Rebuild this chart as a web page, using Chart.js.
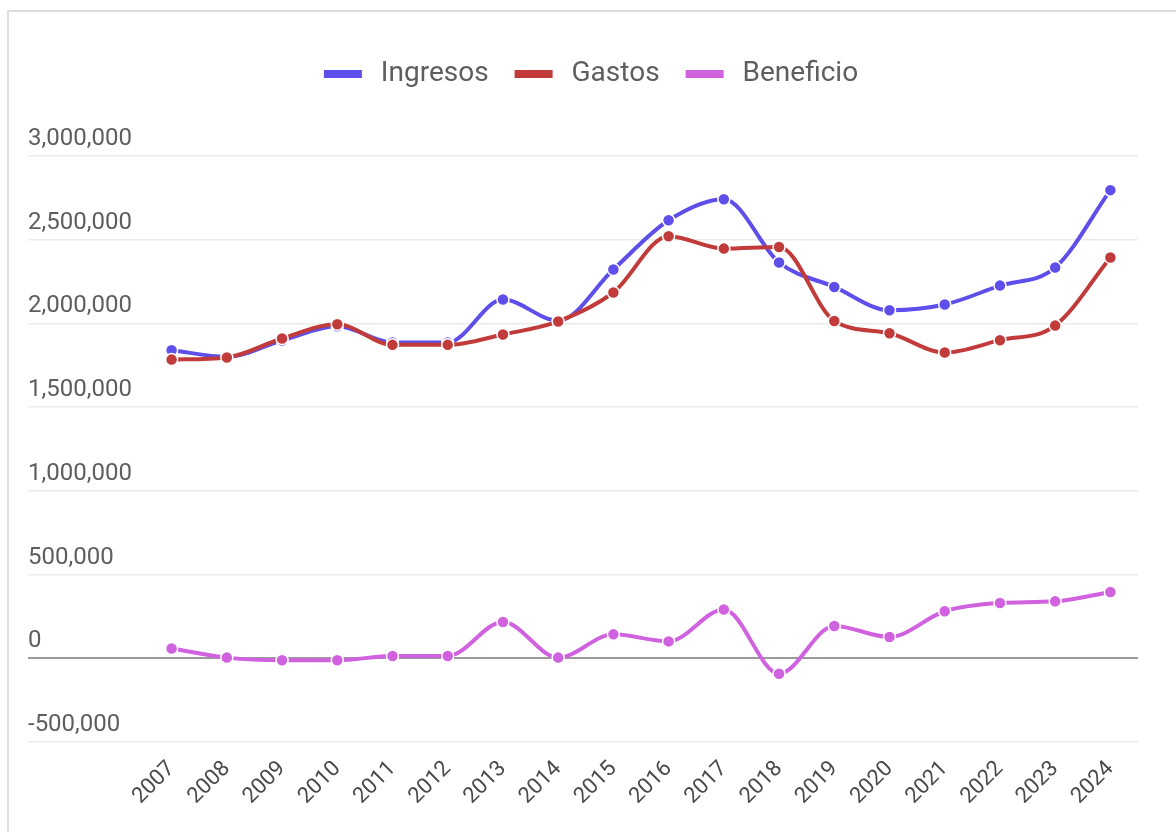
<!DOCTYPE html>
<html>
<head>
<meta charset="utf-8">
<title>Ingresos, Gastos y Beneficio</title>
<script src="https://cdn.jsdelivr.net/npm/chart.js@4.4.0/dist/chart.umd.min.js"></script>
<style>
	html, body { margin: 0; padding: 0; background: #fff; }
	#frame {
		position: absolute; left: 7px; top: 10px; width: 1300px; height: 900px;
		border-left: 2px solid #dedede; border-top: 2px solid #dedede;
	}
	#wrap { position: absolute; left: 0; top: 0; width: 1176px; height: 832px; }
</style>
</head>
<body>
<div id="frame"></div>
<div id="wrap"><canvas id="chart"></canvas></div>
<script>
	'use strict';

	// data
	var years = ['2007', '2008', '2009', '2010', '2011', '2012', '2013', '2014', '2015',
		'2016', '2017', '2018', '2019', '2020', '2021', '2022', '2023', '2024'];
	var ingresos = [1840000, 1801000, 1898000, 1983000, 1886000, 1886000, 2143000, 2016000, 2322000,
		2616000, 2742000, 2364000, 2218000, 2079000, 2113000, 2226000, 2334000, 2796000];
	var gastos = [1784000, 1797000, 1910000, 1995000, 1872000, 1872000, 1934000, 2012000, 2185000,
		2521000, 2447000, 2457000, 2015000, 1941000, 1826000, 1900000, 1987000, 2394000];
	var beneficio = [58000, 4000, -12000, -12000, 14000, 14000, 217000, 4000, 143000,
		101000, 291000, -92000, 193000, 127000, 281000, 330000, 340000, 396000];
	var yMin = -500000;
	var yMax = 3000000;
	var yStep = 500000;

	var textColor = '#5e5e5e';
	var font = 'Roboto';

	function lineSet(label, values, color, order){
		return {
			label: label,
			data: values,
			order: order,
			borderColor: color,
			backgroundColor: color,
			borderWidth: 4,
			cubicInterpolationMode: 'monotone',
			pointRadius: 6,
			pointHoverRadius: 6,
			pointBackgroundColor: color,
			pointBorderColor: '#fff',
			pointBorderWidth: 1.5
		};
	}

	// push the plot area down below the legend, and nudge the legend right a bit
	var legendSpace = {
		id: 'legendSpace',
		beforeInit: function(chart){
			var fit = chart.legend.fit;
			chart.legend.fit = function(){
				fit.call(this);
				this.height += 58;
			};
		},
		afterLayout: function(chart){
			chart.legend.left += 9;
			chart.legend.right += 9;
		}
	};

	var ctx = document.getElementById('chart').getContext('2d');
	var chart = new Chart(ctx, {
		type: 'line',
		data: {
			labels: years,
			datasets: [
				lineSet('Ingresos', ingresos, '#5f4fea', 2),
				lineSet('Gastos', gastos, '#c23b3b', 1),
				lineSet('Beneficio', beneficio, '#d061df', 0)
			]
		},
		options: {
			responsive: true,
			maintainAspectRatio: false,
			animation: false,
			events: [],
			layout: {
				padding: { left: 28, right: 38, top: 32, bottom: 0 }
			},
			plugins: {
				legend: {
					position: 'top',
					labels: {
						boxWidth: 34,
						boxHeight: 4,
						padding: 28,
						color: textColor,
						font: { family: font, size: 28 },
						sort: function(a, b){ return a.datasetIndex - b.datasetIndex; },
						generateLabels: function(chart){
							var items = Chart.defaults.plugins.legend.labels.generateLabels(chart);
							items.forEach(function(it){ it.text = ' ' + it.text; });
							return items;
						}
					}
				},
				tooltip: { enabled: false }
			},
			scales: {
				x: {
					offset: true,
					grid: { display: false },
					border: { display: false },
					ticks: {
						minRotation: 45,
						maxRotation: 45,
						padding: 6,
						color: '#4a4a4a',
						font: { family: font, size: 22 }
					},
					afterFit: function(scale){ scale.height = 90; }
				},
				y: {
					min: yMin,
					max: yMax,
					border: { display: false },
					grid: {
						drawTicks: true,
						tickLength: 116,
						color: function(c){ return c.tick && c.tick.value === 0 ? '#9a9a9a' : '#ebebeb'; },
						lineWidth: function(c){ return c.tick && c.tick.value === 0 ? 2 : 1.5; }
					},
					ticks: {
						stepSize: yStep,
						crossAlign: 'far',
						padding: 0,
						labelOffset: -17,
						color: textColor,
						font: { family: font, size: 24 },
						callback: function(v){ return v.toLocaleString('en-US'); }
					},
					afterFit: function(scale){ scale.width = 116; }
				}
			}
		},
		plugins: [legendSpace]
	});
</script>
</body>
</html>
